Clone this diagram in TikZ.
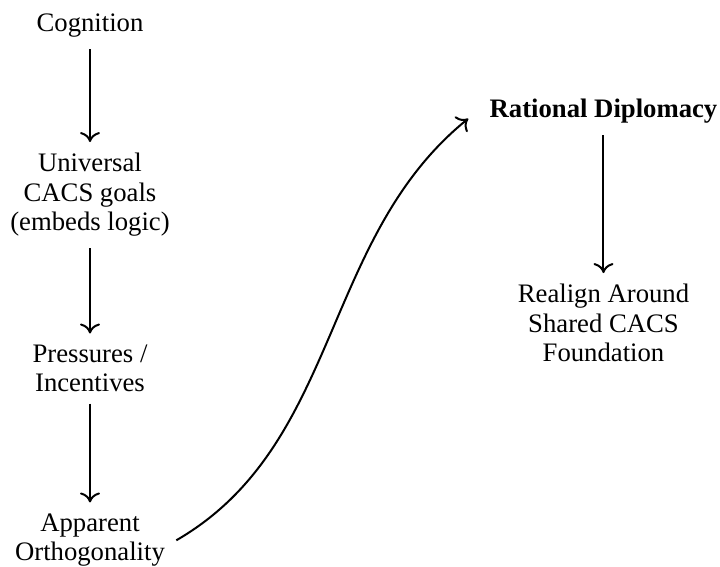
\documentclass[tikz,border=0pt]{standalone}
\usepackage{fontspec}
\setmainfont{Liberation Serif}
\usetikzlibrary{arrows.meta,calc}
\begin{document}
\begin{tikzpicture}[x=0.5pt,y=-0.5pt,
  lbl/.style={align=center,inner sep=5.5pt,anchor=base,font=\fontsize{13.35}{14.75}\selectfont},
  arr/.style={-{To[length=5pt,width=10pt]},line width=1pt}]
\useasboundingbox (0,0) rectangle (720,567);
\node[lbl] (cog) at (90,32) {Cognition};
\node[lbl] (ucg) at (90,231) {Universal\\CACS goals\\(embeds logic)};
\node[lbl] (pin) at (90,392) {Pressures /\\Incentives};
\node[lbl] (ao)  at (90,561) {Apparent\\Orthogonality};
\node[lbl,font=\fontsize{13.35}{14.75}\selectfont\bfseries] (rd) at (603.5,118) {Rational Diplomacy};
\node[lbl] (ra) at (603.5,362) {Realign Around\\Shared CACS\\Foundation};
\draw[arr] (cog) -- (ucg);
\draw[arr] (ucg) -- (pin);
\draw[arr] (pin) -- (ao);
\draw[arr] (rd) -- (ra);
\coordinate (rdin) at ([shift={(-10,7)}]rd.west);
\draw[arr] (ao.east) .. controls +(164.5,-95) and +(-147.6,119.5) .. (rdin);
\end{tikzpicture}
\end{document}
